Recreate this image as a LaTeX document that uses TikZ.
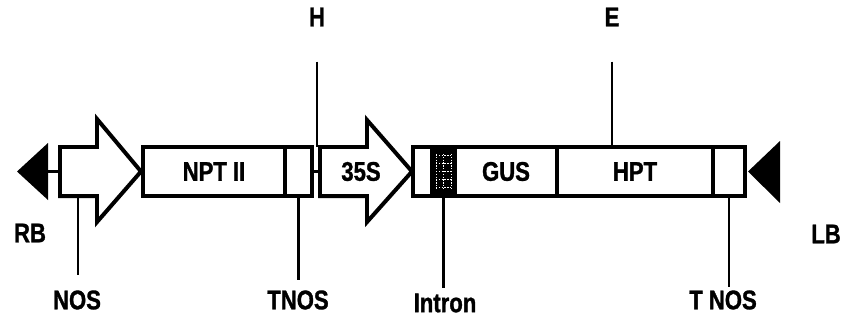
\documentclass[tikz,border=0pt]{standalone}
\usepackage{fontspec}
\setsansfont{Liberation Sans}[FakeStretch=0.82, FakeBold=1.2]
\usepackage{tikz}
\usetikzlibrary{positioning,calc}
\newcommand\mapfont{\fontsize{23}{26}\selectfont\sffamily\bfseries}

\begin{document}
\begin{tikzpicture}[x=0.03cm, y=-0.03cm,
    seg/.style={draw, line width=3.4pt, minimum height=1.47cm, inner sep=0pt, outer sep=0pt, font=\mapfont},
    prom/.style={draw, line width=3.4pt, line join=miter, fill=white},
    site/.style={line width=1.9pt},
    link/.style={line width=3.4pt},
    lab/.style={inner sep=0pt, font=\mapfont}]
  \useasboundingbox (0,0) rectangle (852,326);

  % T-DNA segments
  \node[seg, minimum width=4.26cm] (npt) at (214,171.5) {NPT II};
  \node[seg, minimum width=0.81cm, right=0pt of npt] (tnosa) {};
  \node[seg, minimum width=0.57cm] (lead) at (422.5,171.5) {};
  \node[seg, minimum width=0.69cm, fill=black, right=0pt of lead] (intr) {};
  \node[seg, minimum width=3.06cm, right=0pt of intr] (gus) {GUS};
  \node[seg, minimum width=4.68cm, right=0pt of gus] (hpt) {HPT};
  \node[seg, minimum width=0.96cm, right=0pt of hpt] (tnosb) {};

  % intron grid
  \foreach \gx in {436,443.5,451}
    \draw[white, line width=0.6pt, dash pattern=on 1.2pt off 1.2pt] (\gx,154) -- (\gx,189);
  \foreach \gy in {155,163,171,179,187}
    \draw[white, line width=0.6pt, dash pattern=on 1.2pt off 1.2pt] (436,\gy) -- (451,\gy);

  % promoters
  \coordinate (nosp) at (60,171.5);
  \draw[prom] (60,147) -- (97,147) -- (97,119) -- (141,171.5) -- (97,222) -- (97,196) -- (60,196) -- cycle;
  \coordinate (p35w) at (320,171.5);
  \draw[prom] (320,147) -- (367,147) -- (367,120) -- (412,171.5) -- (367,222) -- (367,196) -- (320,196) -- cycle;
  \node[lab] (p35) at (361,171.5) {35S};
  \draw[link] (tnosa.east) -- (p35w);

  % borders
  \coordinate (rbb) at (48,171.5);
  \fill (48,143) -- (17,171.5) -- (48,200) -- cycle;
  \draw[link] (rbb) -- (nosp);
  \fill (748,171.5) -- (780,141) -- (780,203) -- cycle;

  % labels
  \node[lab] (rb) at (30,233) {RB};
  \node[lab] (lb) at (826,234) {LB};
  \node[lab] (h) at (317,17) {H};
  \node[lab] (e) at (612,17) {E};
  \node[lab] (nos) at (77,300) {NOS};
  \node[lab] (tnos1) at (298,300) {TNOS};
  \node[lab] (intron) at (445,303) {Intron};
  \node[lab] (tnos2) at (723,300) {T NOS};

  % sites
  \coordinate (nossite) at (78,196);
  \coordinate (hsite) at (317,147);
  \draw[site, shorten >=0.45cm] (nossite) -- (nossite |- nos.north);
  \draw[site, shorten >=0.3cm] (tnosa.south) -- (tnosa.south |- tnos1.north);
  \draw[site, shorten >=0.15cm] (intr.south) -- (intr.south |- intron.north);
  \draw[site, shorten >=0.09cm] (tnosb.south) -- (tnosb.south |- tnos2.north);
  \draw[site, shorten <=1.05cm] (h.south) -- (hsite);
  \draw[site, shorten <=1.05cm] (e.south) -- (e.south |- hpt.north);
\end{tikzpicture}
\end{document}
